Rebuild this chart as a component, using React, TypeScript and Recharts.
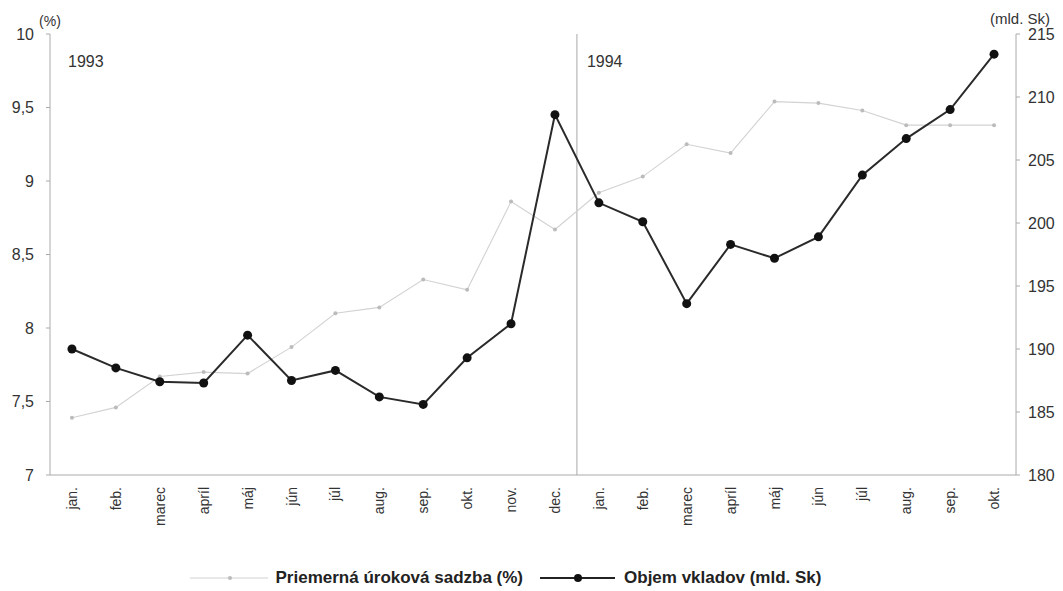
import {
  LineChart,
  Line,
  XAxis,
  YAxis,
  ReferenceLine,
  Legend,
} from "recharts";

const FONT = '"Liberation Sans", Arial, sans-serif';

const months1993 = ["jan.", "feb.", "marec", "apríl", "máj", "jún", "júl", "aug.", "sep.", "okt.", "nov.", "dec."];
const months1994 = ["jan.", "feb.", "marec", "apríl", "máj", "jún", "júl", "aug.", "sep.", "okt."];

// Priemerná úroková sadzba (%)
const rate1993 = [7.39, 7.46, 7.67, 7.7, 7.69, 7.87, 8.1, 8.14, 8.33, 8.26, 8.86, 8.67];
const rate1994 = [8.92, 9.03, 9.25, 9.19, 9.54, 9.53, 9.48, 9.38, 9.38, 9.38];

// Objem vkladov (mld. Sk)
const deposits1993 = [190.0, 188.5, 187.4, 187.3, 191.1, 187.5, 188.3, 186.2, 185.6, 189.3, 192.0, 208.6];
const deposits1994 = [201.6, 200.1, 193.6, 198.3, 197.2, 198.9, 203.8, 206.7, 209.0, 213.4];

const rateTicks = [7, 7.5, 8, 8.5, 9, 9.5, 10];
const depositTicks = [180, 185, 190, 195, 200, 205, 210, 215];

const data = [
  ...months1993.map((m, i) => ({ key: `1993-${m}`, month: m, rate: rate1993[i], deposits: deposits1993[i] })),
  ...months1994.map((m, i) => ({ key: `1994-${m}`, month: m, rate: rate1994[i], deposits: deposits1994[i] })),
];

const MonthTick = ({ x, y, payload }: any) => {
  const label = String(payload.value).split("-")[1];
  return (
    <text
      x={x}
      y={y}
      transform={`rotate(-90 ${x} ${y})`}
      textAnchor="end"
      dominantBaseline="central"
      fontFamily={FONT}
      fontSize={14}
      fill="#333"
    >
      {label}
    </text>
  );
};

const LegendContent = () => (
  <div
    style={{
      display: "flex",
      justifyContent: "center",
      alignItems: "center",
      height: 26,
      paddingRight: 52,
      fontFamily: FONT,
      fontSize: 17,
      fontWeight: 700,
      color: "#222",
    }}
  >
    <svg width={78} height={10} style={{ marginRight: 8 }}>
      <line x1={0} y1={5} x2={78} y2={5} stroke="#d2d2d2" strokeWidth={1.1} />
      <circle cx={40} cy={5} r={2} fill="#bbb" />
    </svg>
    <span>Priemerná úroková sadzba (%)</span>
    <svg width={75} height={10} style={{ marginLeft: 17, marginRight: 9 }}>
      <line x1={0} y1={5} x2={75} y2={5} stroke="#222" strokeWidth={2} />
      <circle cx={38} cy={5} r={4} fill="#111" />
    </svg>
    <span>Objem vkladov (mld. Sk)</span>
  </div>
);

export default function App() {
  return (
    <div style={{ position: "absolute", left: 0, top: 0, background: "#fff" }}>
      <LineChart
        width={1063}
        height={591}
        data={data}
        margin={{ top: 34, right: 0, bottom: 0, left: 0 }}
      >
        <XAxis
          dataKey="key"
          scale="band"
          interval={0}
          height={90}
          tickLine={false}
          tickMargin={6}
          axisLine={{ stroke: "#aaa" }}
          tick={<MonthTick />}
        />
        <YAxis
          yAxisId="rate"
          orientation="left"
          width={50}
          domain={[7, 10]}
          ticks={rateTicks}
          tickFormatter={(v) => String(v).replace(".", ",")}
          tickSize={4}
          tickMargin={12}
          axisLine={{ stroke: "#aaa" }}
          tickLine={{ stroke: "#aaa" }}
          tick={{ fontFamily: FONT, fontSize: 16, fill: "#333" }}
          label={(p: any) => (
            <g>
              <text x={50} y={p.viewBox.y - 8} textAnchor="middle" fontFamily={FONT} fontSize={14} fill="#333">
                (%)
              </text>
              <text x={68} y={p.viewBox.y + 33} fontFamily={FONT} fontSize={16} fill="#333">
                1993
              </text>
            </g>
          )}
        />
        <YAxis
          yAxisId="deposits"
          orientation="right"
          width={47}
          domain={[180, 215]}
          ticks={depositTicks}
          tickSize={4}
          tickMargin={8}
          axisLine={{ stroke: "#aaa" }}
          tickLine={{ stroke: "#aaa" }}
          tick={{ fontFamily: FONT, fontSize: 16, fill: "#333" }}
          label={(p: any) => (
            <text x={p.viewBox.x + 34} y={p.viewBox.y - 10} textAnchor="end" fontFamily={FONT} fontSize={15} fill="#333">
              (mld. Sk)
            </text>
          )}
        />
        <ReferenceLine
          yAxisId="rate"
          x="1993-dec."
          position="end"
          stroke="#aaa"
          strokeWidth={1}
          label={(p: any) => (
            <text x={p.viewBox.x + 10} y={p.viewBox.y + 33} fontFamily={FONT} fontSize={16} fill="#333">
              1994
            </text>
          )}
        />
        <Line
          yAxisId="rate"
          type="linear"
          dataKey="rate"
          name="Priemerná úroková sadzba (%)"
          stroke="#d2d2d2"
          strokeWidth={1.1}
          dot={{ r: 2, fill: "#bbb", stroke: "none" }}
          activeDot={false}
          isAnimationActive={false}
        />
        <Line
          yAxisId="deposits"
          type="linear"
          dataKey="deposits"
          name="Objem vkladov (mld. Sk)"
          stroke="#2a2a2a"
          strokeWidth={2}
          dot={{ r: 4.5, fill: "#111", stroke: "none" }}
          activeDot={false}
          isAnimationActive={false}
        />
        <Legend verticalAlign="bottom" height={26} content={<LegendContent />} />
      </LineChart>
    </div>
  );
}
